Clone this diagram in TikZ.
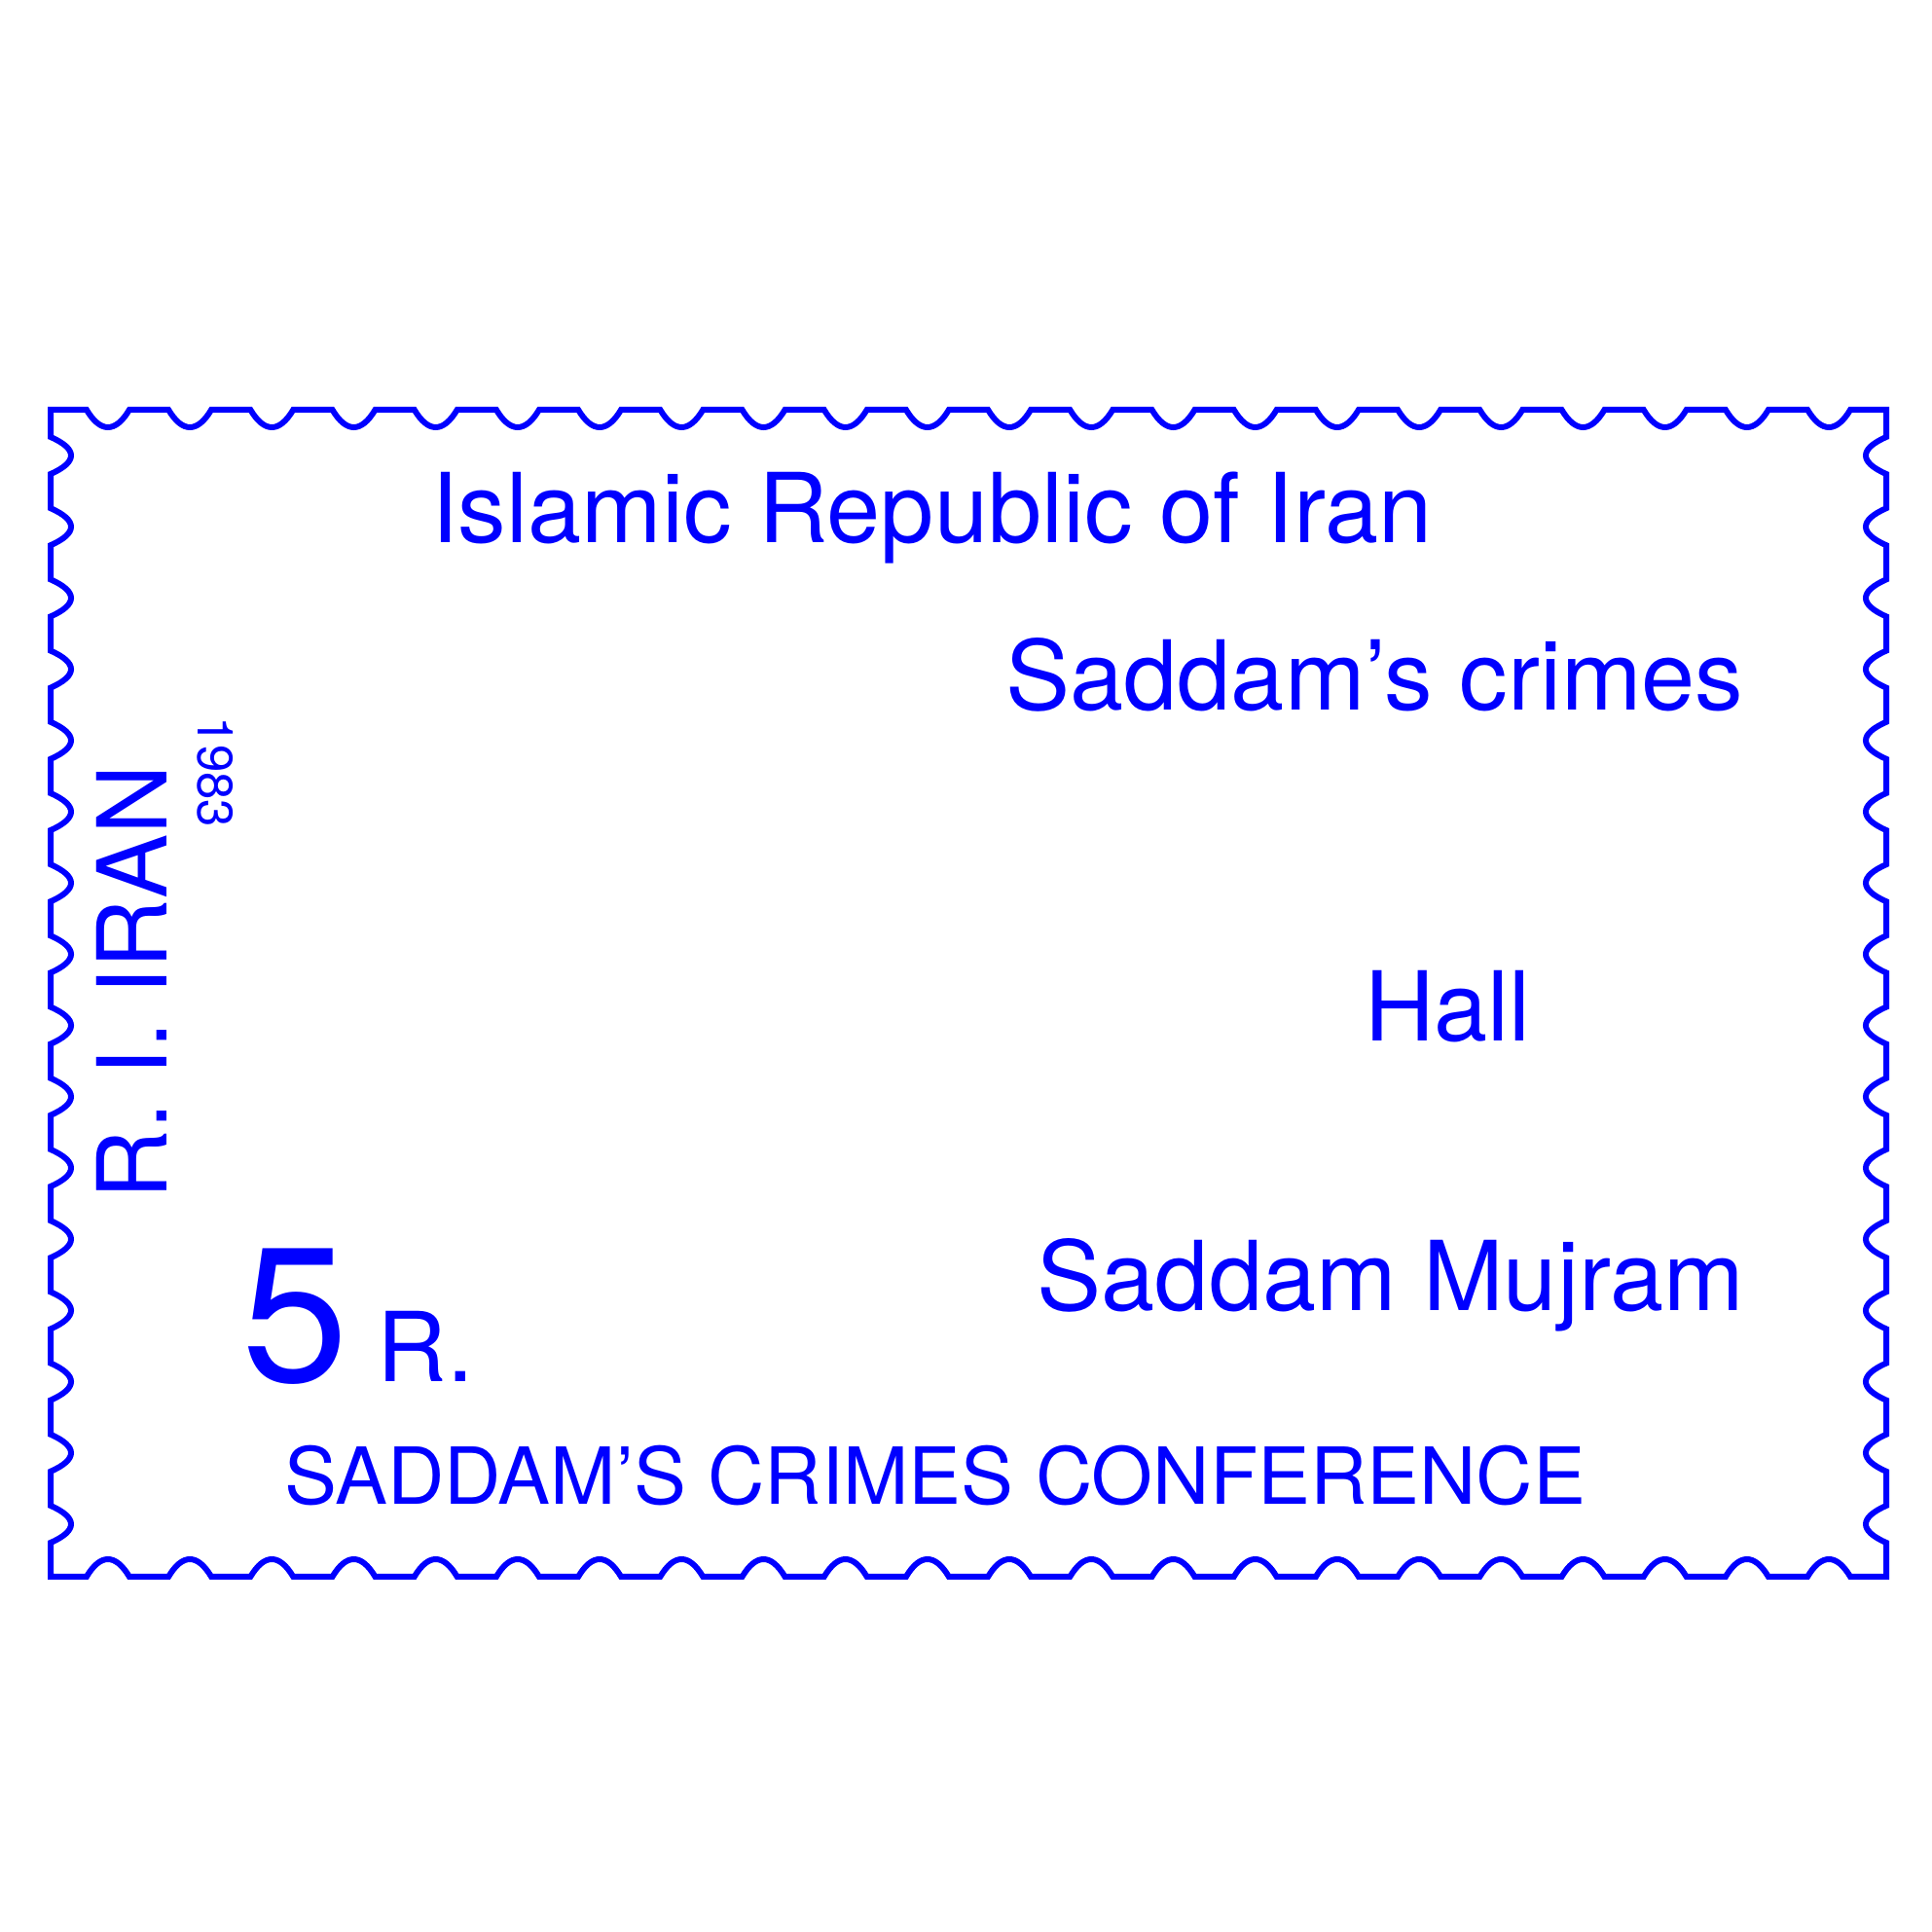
\documentclass[tikz,border=0pt]{standalone}
\usepackage{fontspec}
\setmainfont{TeX Gyre Heros}
\definecolor{stampblue}{RGB}{0,0,255}
\begin{document}
\begin{tikzpicture}[every node/.style={inner sep=0pt,anchor=base,text=stampblue},
  bigtext/.style={font=\fontsize{28.2}{30}\selectfont},
  valuetext/.style={font=\fontsize{56}{60}\selectfont},
  bottomtext/.style={font=\fontsize{23}{25}\selectfont},
  yeartext/.style={font=\fontsize{14.5}{16}\selectfont}]
 \useasboundingbox (0,0) rectangle (19.85,19.85);
 % perforated edge, clockwise from the top left corner
 \draw [stampblue,line width=0.06cm,line join=miter] (0.52,15.64)
  \foreach \k [evaluate=\k as \c using 9.95+0.842*(\k-10.5)] in {0,...,21} {
   -- ({\c-0.22},15.64) .. controls ({\c-0.077},15.40) and ({\c+0.077},15.40) .. ({\c+0.22},15.64) }
  -- (19.38,15.64)
  \foreach \k [evaluate=\k as \c using 9.68+0.732*(7.5-\k)] in {0,...,15} {
   -- (19.38,{\c+0.19}) .. controls (19.10,{\c+0.066}) and (19.10,{\c-0.066}) .. (19.38,{\c-0.19}) }
  -- (19.38,3.65)
  \foreach \k [evaluate=\k as \c using 9.95+0.842*(10.5-\k)] in {0,...,21} {
   -- ({\c+0.22},3.65) .. controls ({\c+0.077},3.89) and ({\c-0.077},3.89) .. ({\c-0.22},3.65) }
  -- (0.52,3.65)
  \foreach \k [evaluate=\k as \c using 9.68+0.732*(\k-7.5)] in {0,...,15} {
   -- (0.52,{\c-0.19}) .. controls (0.80,{\c-0.066}) and (0.80,{\c+0.066}) .. (0.52,{\c+0.19}) }
  -- cycle;
 \node [bigtext] (title) at (9.575,14.27) {Islamic Republic of Iran};
 \node [bigtext] (crimes) at (14.125,12.55) {Saddam's crimes};
 \node [bigtext] (hall) at (14.875,9.15) {Hall};
 \node [bigtext] (mujram) at (14.29,6.38) {Saddam Mujram};
 \node [valuetext] (value) at (3.03,5.65) {5};
 \node [bigtext] (rial) at (4.375,5.65) {R.};
 \node [bottomtext] (conference) at (9.605,4.39) {SADDAM'S CRIMES CONFERENCE};
 \node [bigtext,rotate=90] (country) at (1.72,9.76) {R. I. IRAN};
 \node [yeartext,rotate=-90] (year) at (2.03,11.915) {1983};
\end{tikzpicture}
\end{document}
